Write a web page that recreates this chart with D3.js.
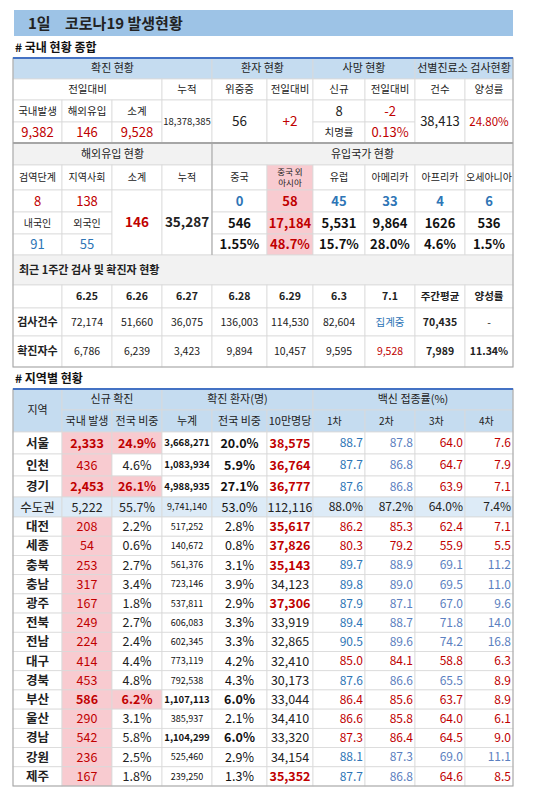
<!DOCTYPE html>
<html><head><meta charset="utf-8">
<script src="https://cdn.jsdelivr.net/npm/d3@7/dist/d3.min.js"></script>
<style>body{margin:0;background:#fff}svg{display:block}</style></head>
<body><svg id="c" width="550" height="799"></svg>
<script>
// ---------- DATA ----------
const title = ["1일", "코로나19 발생현황"];
const section1 = "# 국내 현황 종합";
const section2 = "# 지역별 현황";
const topHeaders = ["확진 현황","환자 현황","사망 현황","선별진료소 검사현황"];
const topSub = ["전일대비","누적","위중증","전일대비","신규","전일대비","건수","양성률"];
const confirmLabels = ["국내발생","해외유입","소계"];
const confirmValues = ["9,382","146","9,528"];
const cumulative = "18,378,385";
const critical = "56", criticalDelta = "+2";
const deathNew = "8", deathDelta = "-2", fatalityLabel = "치명률", fatality = "0.13%";
const tests = "38,413", positivity = "24.80%";
const overseasHeaders = ["해외유입 현황","유입국가 현황"];
const overseasSub = ["검역단계","지역사회","소계","누적"];
const countries = ["중국","중국 외|아시아","유럽","아메리카","아프리카","오세아니아"];
const overseasRow1 = ["8","138"];
const overseasLabels2 = ["내국인","외국인"];
const overseasRow3 = ["91","55"];
const overseasTotal = "146", overseasCum = "35,287";
const countryToday = ["0","58","45","33","4","6"];
const countryCum = ["546","17,184","5,531","9,864","1626","536"];
const countryShare = ["1.55%","48.7%","15.7%","28.0%","4.6%","1.5%"];
const weekTitle = "최근 1주간 검사 및 확진자 현황";
const weekDates = ["6.25","6.26","6.27","6.28","6.29","6.3","7.1","주간평균","양성률"];
const weekTests = ["72,174","51,660","36,075","136,003","114,530","82,604","집계중","70,435","-"];
const weekCases = ["6,786","6,239","3,423","9,894","10,457","9,595","9,528","7,989","11.34%"];
const regionHeaderTop = ["지역","신규 확진","확진 환자(명)","백신 접종률(%)"];
const regionHeaderSub = ["국내 발생","전국 비중","누계","전국 비중","10만명당","1차","2차","3차","4차"];
const regions = ["서울","인천","경기","수도권","대전","세종","충북","충남","광주","전북","전남","대구","경북","부산","울산","경남","강원","제주"];
const newCases = [2333,436,2453,5222,208,54,253,317,167,249,224,414,453,586,290,542,236,167];
const newShare = ["24.9%","4.6%","26.1%","55.7%","2.2%","0.6%","2.7%","3.4%","1.8%","2.7%","2.4%","4.4%","4.8%","6.2%","3.1%","5.8%","2.5%","1.8%"];
const cumCases = [3668271,1083934,4988935,9741140,517252,140672,561376,723146,537811,606083,602345,773119,792538,1107113,385937,1104299,525460,239250];
const cumShare = ["20.0%","5.9%","27.1%","53.0%","2.8%","0.8%","3.1%","3.9%","2.9%","3.3%","3.3%","4.2%","4.3%","6.0%","2.1%","6.0%","2.9%","1.3%"];
const per100k = [38575,36764,36777,112116,35617,37826,35143,34123,37306,33919,32865,32410,30173,33044,34410,33320,34154,35352];
const vax1 = [88.7,87.7,87.6,88.0,86.2,80.3,89.7,89.8,87.9,89.4,90.5,85.0,87.6,86.4,86.6,87.3,88.1,87.7];
const vax2 = [87.8,86.8,86.8,87.2,85.3,79.2,88.9,89.0,87.1,88.7,89.6,84.1,86.6,85.6,85.8,86.4,87.3,86.8];
const vax3 = [64.0,64.7,63.9,64.0,62.4,55.9,69.1,69.5,67.0,71.8,74.2,58.8,65.5,63.7,64.0,64.5,69.0,64.6];
const vax4 = [7.6,7.9,7.1,7.4,7.1,5.5,11.2,11.0,9.6,14.0,16.8,6.3,8.9,8.9,6.1,9.0,11.1,8.5];
const vaxThresholds = [87.5,86.5,65.0,9.5];
const summaryRegion = "수도권";

// ---------- STYLE ----------
const F = "'Noto Sans CJK KR','Noto Sans',sans-serif";
const RED="#c00000", BLUE="#2e75b6", BLUE2="#5b80c0", PINK="#f8cbd0", HDR="#c5dcf0", GRAY="#f2f2f2", SUM="#ddebf7";
const svg = d3.select("#c");
const fmt = d3.format(",");
const colEdges = [13,62,112,162,212,267,313,365,415,465,513];
const x = d3.scaleLinear().domain(d3.range(11)).range(colEdges);
const y1 = d3.scaleLinear().domain(d3.range(14)).range([58,79,100,122,143,165,190,212,234,255,285,308,336,367]);
const rEdges = [389,410,432,454,476,497,517];
for(let i=0;i<14;i++) rEdges.push(517+ (786-517)*(i+1)/14);
const y2 = d3.scaleLinear().domain(d3.range(rEdges.length)).range(rEdges);

svg.append("rect").attr("x",14).attr("y",10).attr("width",499).attr("height",26).attr("fill","#9dc3e6");
svg.append("text").attr("x",28).attr("y",29).text(title[0]).attr("font-family",F).attr("font-size",15).attr("font-weight","bold").attr("fill","#222");
svg.append("text").attr("x",65).attr("y",29).text(title[1]).attr("font-family",F).attr("font-size",15).attr("font-weight","bold").attr("fill","#222");
svg.append("text").attr("x",15).attr("y",52).text(section1).attr("font-family",F).attr("font-size",12).attr("font-weight","bold").attr("fill","#111");
svg.append("text").attr("x",15).attr("y",383).text(section2).attr("font-family",F).attr("font-size",12).attr("font-weight","bold").attr("fill","#111");

const cells=[];
function cell(ys,c0,c1,r0,r1,text,o={}){cells.push(Object.assign({ys,c0,c1,r0,r1,text},o));}

topHeaders.forEach((t,i)=>{const sp=[[0,4],[4,6],[6,8],[8,10]][i];cell(y1,sp[0],sp[1],0,1,t,{fill:HDR,size:11});});
cell(y1,0,3,1,2,topSub[0],{size:10.5});
topSub.slice(1).forEach((t,i)=>cell(y1,3+i,4+i,1,2,t,{size:10.5}));
confirmLabels.forEach((t,i)=>cell(y1,i,i+1,2,3,t,{size:10.5}));
confirmValues.forEach((t,i)=>cell(y1,i,i+1,3,4,t,{color:RED,size:13}));
cell(y1,3,4,2,4,cumulative,{size:9.5});
cell(y1,4,5,2,4,critical,{size:13.5});
cell(y1,5,6,2,4,criticalDelta,{color:RED,size:13.5});
cell(y1,6,7,2,3,deathNew,{size:13});
cell(y1,7,8,2,3,deathDelta,{color:RED,size:13});
cell(y1,6,7,3,4,fatalityLabel,{size:10.5});
cell(y1,7,8,3,4,fatality,{color:RED,size:13});
cell(y1,8,9,2,4,tests,{size:13});
cell(y1,9,10,2,4,positivity,{color:RED,size:11.5});
cell(y1,0,4,4,5,overseasHeaders[0],{fill:GRAY,size:11});
cell(y1,4,10,4,5,overseasHeaders[1],{fill:GRAY,size:11});
overseasSub.forEach((t,i)=>cell(y1,i,i+1,5,6,t,{size:10}));
countries.forEach((t,i)=>cell(y1,4+i,5+i,5,6,t,{size:i==1?8.5:10,fill:i==1?PINK:null,lh:11}));
overseasRow1.forEach((t,i)=>cell(y1,i,i+1,6,7,t,{color:RED,size:13}));
overseasLabels2.forEach((t,i)=>cell(y1,i,i+1,7,8,t,{size:10}));
overseasRow3.forEach((t,i)=>cell(y1,i,i+1,8,9,t,{color:BLUE,size:13}));
cell(y1,2,3,6,9,overseasTotal,{color:RED,size:13.5,weight:"bold"});
cell(y1,3,4,6,9,overseasCum,{size:13.5,weight:"bold"});
countryToday.forEach((t,i)=>cell(y1,4+i,5+i,6,7,t,{color:i==1?RED:BLUE,fill:i==1?PINK:null,size:13,weight:"bold"}));
countryCum.forEach((t,i)=>cell(y1,4+i,5+i,7,8,t,{color:i==1?RED:"#111",fill:i==1?PINK:null,size:13,weight:"bold"}));
countryShare.forEach((t,i)=>cell(y1,4+i,5+i,8,9,t,{color:i==1?RED:"#111",fill:i==1?PINK:null,size:13,weight:"bold"}));
cell(y1,0,10,9,10,weekTitle,{fill:GRAY,size:11,weight:"bold",align:"left"});
cell(y1,0,1,10,11,"",{});
weekDates.forEach((t,i)=>cell(y1,1+i,2+i,10,11,t,{size:10.5,weight:"bold"}));
cell(y1,0,1,11,12,"검사건수",{size:11,weight:"bold"});
cell(y1,0,1,12,13,"확진자수",{size:11,weight:"bold"});
weekTests.forEach((t,i)=>cell(y1,1+i,2+i,11,12,t,{size:10.5,color:t=="집계중"?BLUE:"#222",weight:i==7?"bold":null}));
weekCases.forEach((t,i)=>cell(y1,1+i,2+i,12,13,t,{size:10.5,color:i==6?RED:"#222",weight:i>=7?"bold":null}));

cell(y2,0,1,0,2,regionHeaderTop[0],{fill:HDR,size:11});
[[1,3],[3,6],[6,10]].forEach((s,i)=>cell(y2,s[0],s[1],0,1,regionHeaderTop[i+1],{fill:HDR,size:11}));
regionHeaderSub.forEach((t,i)=>cell(y2,1+i,2+i,1,2,t,{fill:HDR,size:i>=5?10:11,align:i>=5?"leftpad":null}));
const localNew = regions.map((r,i)=>r===summaryRegion?-1:newCases[i]);
const top3Vals = localNew.slice().sort((a,b)=>b-a).slice(0,3);
const vaxCols=[vax1,vax2,vax3,vax4];
regions.forEach((r,i)=>{
  const R=2+i, sum=r===summaryRegion, rf=sum?SUM:null;
  const hot=!sum && top3Vals.includes(newCases[i]);
  const big=!sum && cumCases[i]>=1e6;
  cell(y2,0,1,R,R+1,r,{fill:rf,size:12.5,weight:sum?null:"bold"});
  cell(y2,1,2,R,R+1,fmt(newCases[i]),{fill:sum?rf:PINK,color:sum?"#222":RED,size:12.5,weight:hot?"bold":null});
  cell(y2,2,3,R,R+1,newShare[i],{fill:hot?PINK:rf,color:hot?RED:"#222",size:12.5,weight:hot?"bold":null});
  cell(y2,3,4,R,R+1,fmt(cumCases[i]),{fill:rf,size:big?9.5:9,weight:big?"bold":null,color:"#111"});
  cell(y2,4,5,R,R+1,cumShare[i],{fill:rf,size:12.5,weight:big?"bold":null,color:"#111"});
  const hi=!sum&&per100k[i]>=35000;
  cell(y2,5,6,R,R+1,fmt(per100k[i]),{fill:rf,size:12.5,weight:hi?"bold":null,color:hi?RED:"#222"});
  vaxCols.forEach((v,k)=>{
    const col = sum?"#222":(v[i]<vaxThresholds[k]?RED:(k==0?BLUE:BLUE2));
    cell(y2,6+k,7+k,R,R+1,sum?v[i].toFixed(1)+"%":v[i].toFixed(1),{fill:rf,size:12,color:col,align:"right"});
  });
});

const g=svg.append("g");
cells.forEach(c=>{
  const x0=x(c.c0),x1=x(c.c1),yy0=c.ys(c.r0),yy1=c.ys(c.r1);
  g.append("rect").attr("x",x0).attr("y",yy0).attr("width",x1-x0).attr("height",yy1-yy0)
   .attr("fill",c.fill||"#fff").attr("stroke","#d9d9d9").attr("stroke-width",0.8);
  const parts=c.text.split("|");
  const lh=c.lh||c.size+1;
  parts.forEach((p,j)=>{
    let tx=(x0+x1)/2, anchor="middle";
    if(c.align=="left"){tx=x0+6;anchor="start";}
    if(c.align=="right"){tx=x1-2;anchor="end";}
    if(c.align=="leftpad"){tx=x0+14;anchor="start";}
    g.append("text").attr("x",tx).attr("y",(yy0+yy1)/2+c.size*0.36+(j-(parts.length-1)/2)*lh)
     .attr("text-anchor",anchor).attr("font-family",F).attr("font-size",c.size)
     .attr("font-weight",c.weight||"normal").attr("fill",c.color||"#222").text(p);
  });
});
svg.append("line").attr("x1",13).attr("x2",513).attr("y1",143).attr("y2",143).attr("stroke","#a6a6a6").attr("stroke-width",2);
svg.append("line").attr("x1",212).attr("x2",212).attr("y1",143).attr("y2",255).attr("stroke","#a6a6a6").attr("stroke-width",1);
svg.append("rect").attr("x",13).attr("y",58).attr("width",500).attr("height",309).attr("fill","none").attr("stroke","#a6a6a6");
svg.append("line").attr("x1",13).attr("x2",513).attr("y1",58).attr("y2",58).attr("stroke","#4472c4").attr("stroke-width",2);
svg.append("rect").attr("x",13).attr("y",389).attr("width",500).attr("height",397).attr("fill","none").attr("stroke","#a6a6a6");
svg.append("line").attr("x1",13).attr("x2",513).attr("y1",389).attr("y2",389).attr("stroke","#4472c4").attr("stroke-width",2);
</script></body></html>
